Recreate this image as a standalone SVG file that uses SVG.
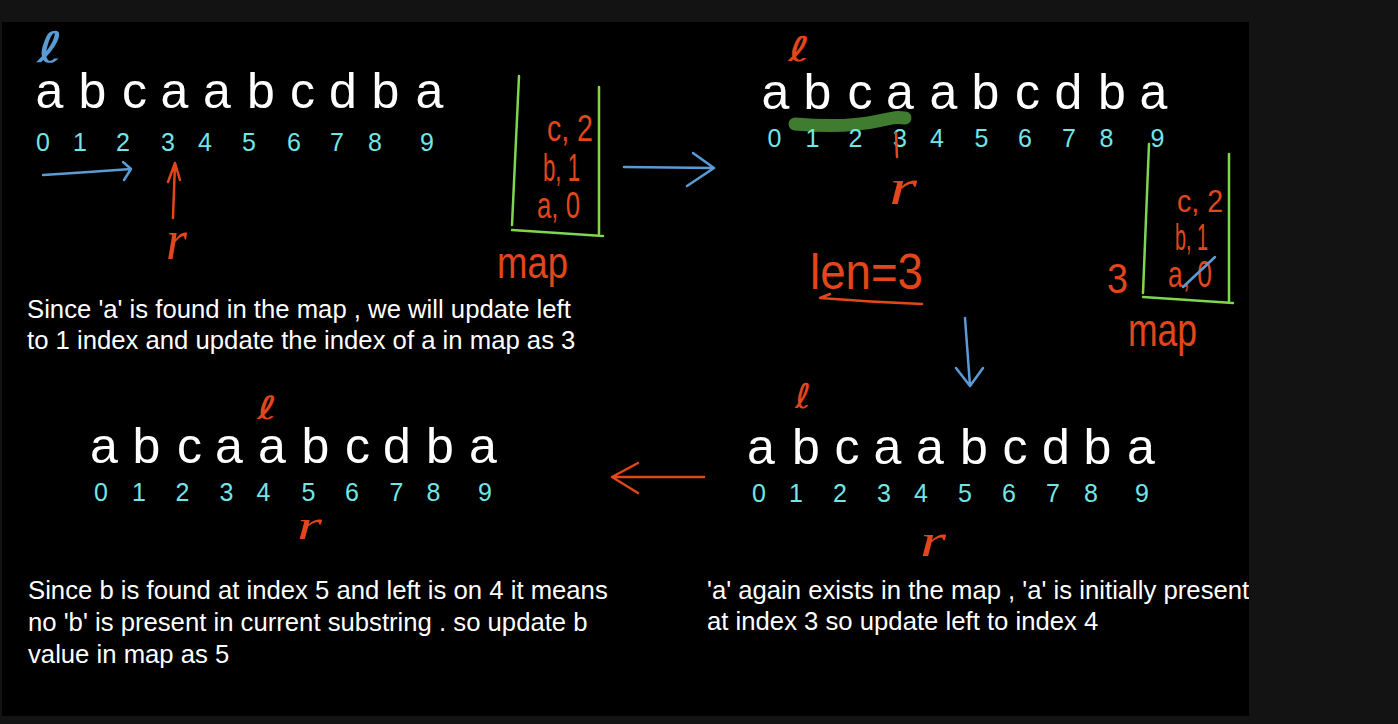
<svg xmlns="http://www.w3.org/2000/svg" width="1398" height="724" viewBox="0 0 1398 724">
<defs>
<style>
.ch{font-family:"Liberation Sans",Arial,sans-serif;font-size:50px;fill:#ffffff;text-anchor:middle}
.dg{font-family:"Liberation Sans",Arial,sans-serif;font-size:25px;fill:#72e6e6;text-anchor:middle}
.tx{font-family:"Liberation Sans",Arial,sans-serif;font-size:25.7px;fill:#ffffff}
.hw{font-family:"Liberation Sans",Arial,sans-serif;fill:#e2461c}
.hl{font-family:"DejaVu Sans",sans-serif;fill:#e2461c}
.hr{font-family:"Liberation Serif","DejaVu Serif",serif;font-style:italic;fill:#e2461c}
.red{stroke:#e2461c;stroke-width:2.5;fill:none;stroke-linecap:round;stroke-linejoin:round}
.blue{stroke:#5b9bd5;stroke-width:2.5;fill:none;stroke-linecap:round;stroke-linejoin:round}
.green{stroke:#7fd64f;stroke-width:2.5;fill:none;stroke-linecap:round}
</style>
<clipPath id="cv"><rect x="2" y="22" width="1247" height="694"/></clipPath>
</defs>
<rect x="0" y="0" width="1398" height="724" fill="#131313"/>
<rect x="2" y="22" width="1247" height="694" fill="#000000"/>

<g id="step1">
<text class="hl" x="37" y="62" font-size="42" textLength="26" lengthAdjust="spacingAndGlyphs" style="fill:#5b9bd5">ℓ</text>
<text class="ch" x="49.5" y="108">a</text><text class="ch" x="92.5" y="108">b</text><text class="ch" x="134.5" y="108">c</text><text class="ch" x="174.5" y="108">a</text><text class="ch" x="217" y="108">a</text><text class="ch" x="261" y="108">b</text><text class="ch" x="302.5" y="108">c</text><text class="ch" x="343" y="108">d</text><text class="ch" x="385.5" y="108">b</text><text class="ch" x="429.5" y="108">a</text>
<text class="dg" x="43" y="151">0</text><text class="dg" x="80" y="151">1</text><text class="dg" x="123" y="151">2</text><text class="dg" x="168" y="151">3</text><text class="dg" x="205" y="151">4</text><text class="dg" x="249" y="151">5</text><text class="dg" x="294" y="151">6</text><text class="dg" x="337" y="151">7</text><text class="dg" x="375" y="151">8</text><text class="dg" x="427" y="151">9</text>
<text class="hr" x="166" y="259" font-size="56" textLength="21" lengthAdjust="spacingAndGlyphs">r</text>
</g>

<g id="map1">
<path class="green" d="M519 76 L512 225 M599 87 L599 234 M512 230 L603 236"/>
<text class="hw" x="547" y="141" font-size="36" textLength="46" lengthAdjust="spacingAndGlyphs">c, 2</text>
<text class="hw" x="543" y="181" font-size="38" textLength="37" lengthAdjust="spacingAndGlyphs">b, 1</text>
<text class="hw" x="537" y="218" font-size="36" textLength="43" lengthAdjust="spacingAndGlyphs">a, 0</text>
<text class="hw" x="497" y="278" font-size="44" textLength="71" lengthAdjust="spacingAndGlyphs">map</text>
</g>

<g id="step2">
<path d="M795 124 C830 127 860 125 878 121 S898 117 905 118" stroke="#3f7c2f" stroke-width="13" fill="none" stroke-linecap="round"/>
<text class="hl" x="788" y="61" font-size="34" textLength="22" lengthAdjust="spacingAndGlyphs">ℓ</text>
<text class="ch" x="775.5" y="109">a</text><text class="ch" x="817.5" y="109">b</text><text class="ch" x="860" y="109">c</text><text class="ch" x="900" y="109">a</text><text class="ch" x="943.5" y="109">a</text><text class="ch" x="985.5" y="109">b</text><text class="ch" x="1027.5" y="109">c</text><text class="ch" x="1068.5" y="109">d</text><text class="ch" x="1112" y="109">b</text><text class="ch" x="1153.5" y="109">a</text>
<text class="dg" x="774.5" y="147">0</text><text class="dg" x="812.5" y="147">1</text><text class="dg" x="855.5" y="147">2</text><text class="dg" x="900" y="147">3</text><text class="dg" x="937" y="147">4</text><text class="dg" x="981.5" y="147">5</text><text class="dg" x="1025" y="147">6</text><text class="dg" x="1069" y="147">7</text><text class="dg" x="1106.5" y="147">8</text><text class="dg" x="1157.5" y="147">9</text>
<path class="red" d="M896 133 L897 157" stroke-width="2"/>
<text class="hr" x="889" y="204" font-size="50" textLength="28" lengthAdjust="spacingAndGlyphs">r</text>
<text class="hw" x="810" y="289" font-size="50" textLength="113" lengthAdjust="spacingAndGlyphs">len=3</text>
<path class="red" d="M830 294 L820 298 Q870 302 922 304"/>
</g>

<g id="map2">
<path class="green" d="M1149 144 L1143 293 M1229 154 L1229 302 M1143 297 L1233 303"/>
<text class="hw" x="1177" y="212" font-size="32" textLength="46" lengthAdjust="spacingAndGlyphs">c, 2</text>
<text class="hw" x="1175" y="250" font-size="36" textLength="33" lengthAdjust="spacingAndGlyphs">b, 1</text>
<text class="hw" x="1168" y="287" font-size="36" textLength="44" lengthAdjust="spacingAndGlyphs">a, 0</text>
<path class="blue" d="M1183 287 L1215 257" stroke-width="2"/>
<text class="hw" x="1107" y="293" font-size="42" textLength="21" lengthAdjust="spacingAndGlyphs">3</text>
<text class="hw" x="1128" y="346" font-size="46" textLength="69" lengthAdjust="spacingAndGlyphs">map</text>
</g>

<g id="step3">
<text class="hl" x="257" y="419" font-size="32" textLength="20" lengthAdjust="spacingAndGlyphs">ℓ</text>
<text class="ch" x="104" y="463">a</text><text class="ch" x="146.5" y="463">b</text><text class="ch" x="189.5" y="463">c</text><text class="ch" x="229" y="463">a</text><text class="ch" x="272" y="463">a</text><text class="ch" x="315.5" y="463">b</text><text class="ch" x="357.5" y="463">c</text><text class="ch" x="397" y="463">d</text><text class="ch" x="440" y="463">b</text><text class="ch" x="483" y="463">a</text>
<text class="dg" x="101" y="501">0</text><text class="dg" x="139" y="501">1</text><text class="dg" x="182.5" y="501">2</text><text class="dg" x="226.5" y="501">3</text><text class="dg" x="263.5" y="501">4</text><text class="dg" x="308.5" y="501">5</text><text class="dg" x="352" y="501">6</text><text class="dg" x="396.5" y="501">7</text><text class="dg" x="433.5" y="501">8</text><text class="dg" x="485" y="501">9</text>
<text class="hr" x="297" y="539" font-size="40" textLength="25" lengthAdjust="spacingAndGlyphs">r</text>
</g>

<g id="step4">
<text class="hl" x="795" y="408" font-size="34" textLength="16" lengthAdjust="spacingAndGlyphs">ℓ</text>
<text class="ch" x="761" y="464">a</text><text class="ch" x="806" y="464">b</text><text class="ch" x="847" y="464">c</text><text class="ch" x="887.5" y="464">a</text><text class="ch" x="930" y="464">a</text><text class="ch" x="974" y="464">b</text><text class="ch" x="1015" y="464">c</text><text class="ch" x="1056" y="464">d</text><text class="ch" x="1097.5" y="464">b</text><text class="ch" x="1141" y="464">a</text>
<text class="dg" x="759" y="502">0</text><text class="dg" x="796" y="502">1</text><text class="dg" x="840" y="502">2</text><text class="dg" x="884" y="502">3</text><text class="dg" x="921" y="502">4</text><text class="dg" x="965" y="502">5</text><text class="dg" x="1009" y="502">6</text><text class="dg" x="1053" y="502">7</text><text class="dg" x="1091" y="502">8</text><text class="dg" x="1142" y="502">9</text>
<text class="hr" x="920" y="556" font-size="46" textLength="26" lengthAdjust="spacingAndGlyphs">r</text>
</g>

<g id="captions" clip-path="url(#cv)">
<text class="tx" x="27" y="318">Since 'a' is found in the map , we will update left</text>
<text class="tx" x="27" y="349">to 1 index and update the index of a in map as 3</text>
<text class="tx" x="28" y="599">Since b is found at index 5 and left is on 4 it means</text>
<text class="tx" x="28" y="631">no 'b' is present in current substring . so update b</text>
<text class="tx" x="28" y="663">value in map as 5</text>
<text class="tx" x="707" y="599">'a' again exists in the map , 'a' is initially present</text>
<text class="tx" x="707" y="630">at index 3 so update left to index 4</text>
</g>

<g id="connectors">
<path class="blue" d="M43 175 Q90 172 131 169 M123 162 L131 169 L124 180"/>
<path class="red" d="M173 218 L175 163 M168 182 L175 163 L180 180" stroke-width="3"/>
<path class="blue" d="M624 167 L714 168 M693 153 L714 168 L687 186"/>
<path class="blue" d="M965 318 L970 386 M956 368 L970 386 L983 368"/>
<path class="red" d="M704 477 L612 477 M638 463 L612 477 L638 493"/>
</g>
</svg>
